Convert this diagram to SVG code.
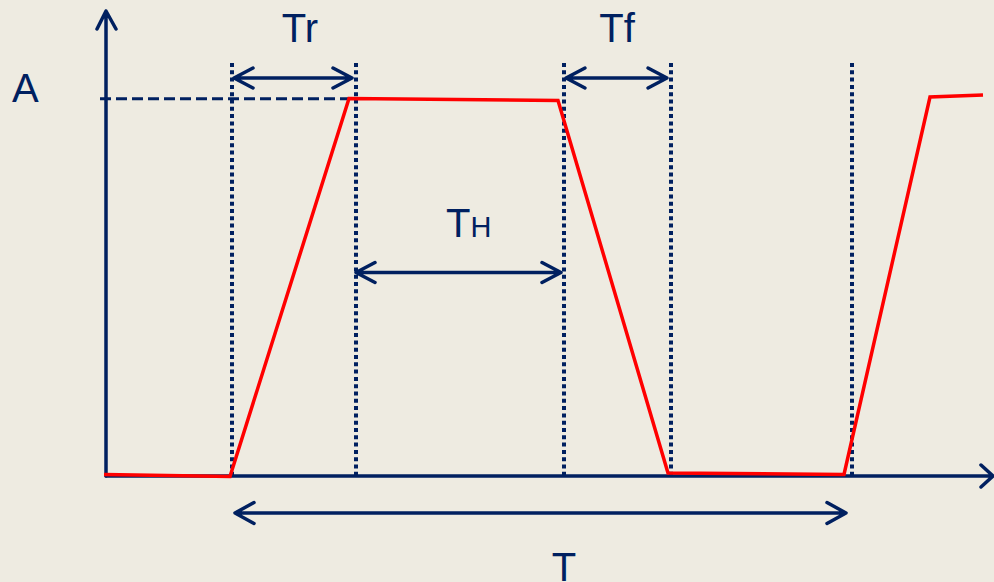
<svg xmlns="http://www.w3.org/2000/svg" width="994" height="582" viewBox="0 0 994 582">
<style>
.ax{stroke:#002060;stroke-width:3.5;fill:none;stroke-linecap:round;stroke-linejoin:round}
.dim{stroke:#002060;stroke-width:3.5;fill:none;stroke-linecap:round;stroke-linejoin:round}
.dot{stroke:#002060;stroke-width:4;fill:none;stroke-dasharray:4 3.3}
.dash{stroke:#002060;stroke-width:3;fill:none;stroke-dasharray:11 5}
.wave{stroke:#FF0000;stroke-width:3.5;fill:none;stroke-linejoin:miter}
.lbl{font-family:"Liberation Sans","DejaVu Sans",sans-serif;fill:#002060}
</style>
<rect x="0" y="0" width="994" height="582" fill="#EEEBE1"/>
<g id="axes">
<path class="ax" d="M106,476 V11 M97,29 L106,11 L116,29"/>
<path class="ax" d="M106,476 H993 M981,465 L993,476 L981,487"/>
</g>
<g id="guides">
<path class="dash" d="M100,98.7 H350"/>
<path class="dot" d="M232,63 V476"/>
<path class="dot" d="M356,63 V476"/>
<path class="dot" d="M564,63 V476"/>
<path class="dot" d="M671,63 V476"/>
<path class="dot" d="M852,63 V476"/>
</g>
<g id="connectors">
<path class="dim" d="M234,78 H352 M253,68 L234,78 L253,88 M333,68 L352,78 L333,88"/>
<path class="dim" d="M566,78 H667 M585,68 L566,78 L585,88 M648,68 L667,78 L648,88"/>
<path class="dim" d="M356,272.5 H561 M375,262.5 L356,272.5 L375,282.5 M542,262.5 L561,272.5 L542,282.5"/>
<path class="dim" d="M235,513 H846 M254,502.5 L235,513 L254,523.5 M827,502.5 L846,513 L827,523.5"/>
</g>
<g id="waveform">
<path class="wave" d="M104,474.5 L230,476.5 L349,98.5 L558,100.5 L668,473 L844,474.5 L930,97 L983,95"/>
</g>
<g id="labels">
<text class="lbl" x="12" y="102" font-size="40">A</text>
<text class="lbl" x="300" y="42" font-size="40" text-anchor="middle">Tr</text>
<text class="lbl" x="617" y="42" font-size="40" text-anchor="middle">Tf</text>
<text class="lbl" x="446" y="237" font-size="40">T<tspan font-size="29">H</tspan></text>
<text class="lbl" x="564" y="581" font-size="40" text-anchor="middle">T</text>
</g>
</svg>
